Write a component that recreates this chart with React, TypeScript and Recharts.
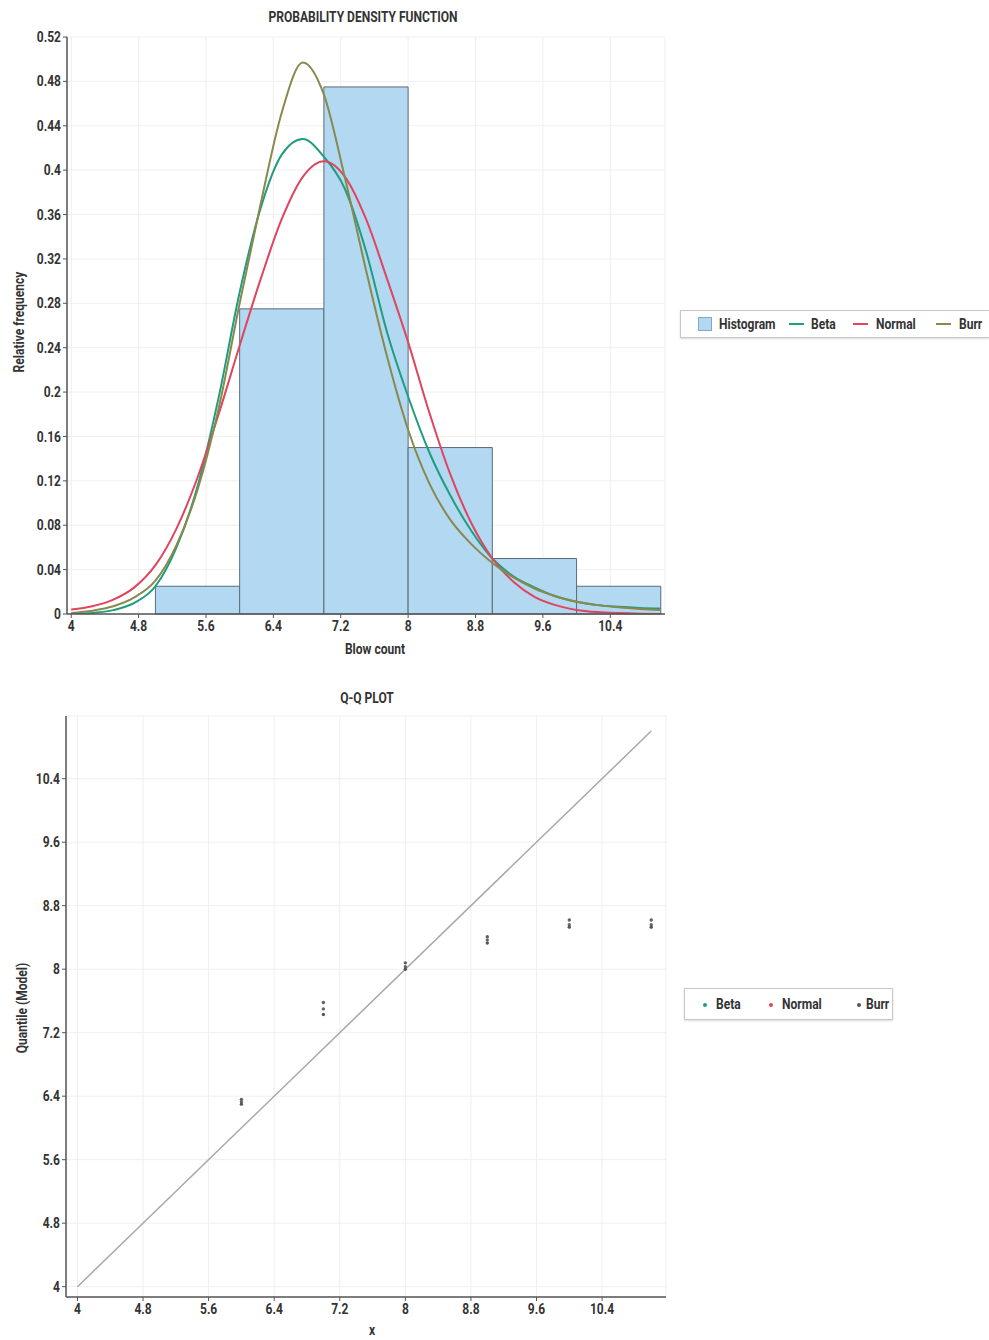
import React from "react";
import {
  ComposedChart,
  Line,
  Scatter,
  XAxis,
  YAxis,
  CartesianGrid,
  ReferenceArea,
  Legend,
} from "recharts";

// ---------- Data: histogram ----------
const HIST_EDGES = [5, 6, 7, 8, 9, 10, 11];
const HIST_FREQ = [0.025, 0.275, 0.475, 0.15, 0.05, 0.025];

// ---------- Data: fitted densities ----------
const PDF_X = [
  4, 4.25, 4.5, 4.75, 5, 5.25, 5.5, 5.75, 6, 6.25, 6.5, 6.75, 7, 7.25, 7.5,
  7.75, 8, 8.25, 8.5, 8.75, 9, 9.25, 9.5, 9.75, 10, 10.25, 10.5, 10.75, 11,
];
const BETA_PDF = [
  0.0002, 0.001, 0.0035, 0.01, 0.025, 0.06, 0.115, 0.195, 0.29, 0.366, 0.414,
  0.428, 0.412, 0.383, 0.327, 0.254, 0.196, 0.146, 0.107, 0.075, 0.05, 0.034,
  0.024, 0.016, 0.011, 0.008, 0.0065, 0.0055, 0.005,
];
const NORMAL_PDF = [
  0.004, 0.007, 0.013, 0.024, 0.044, 0.077, 0.123, 0.18, 0.242, 0.302, 0.356,
  0.394, 0.408, 0.394, 0.356, 0.302, 0.245, 0.182, 0.126, 0.082, 0.05, 0.029,
  0.0155, 0.008, 0.0037, 0.0017, 0.0008, 0.0003, 0.0001,
];
const BURR_PDF = [
  0.001, 0.003, 0.007, 0.015, 0.03, 0.062, 0.112, 0.185, 0.28, 0.37, 0.452,
  0.497, 0.468, 0.393, 0.31, 0.232, 0.166, 0.118, 0.085, 0.063, 0.046, 0.033,
  0.023, 0.016, 0.011, 0.008, 0.006, 0.0046, 0.0036,
];

// ---------- Data: Q-Q plot ----------
const QQ_X = [6, 7, 8, 9, 10, 11];
const QQ_BETA = [6.33, 7.5, 8.03, 8.37, 8.56, 8.56];
const QQ_NORMAL = [6.36, 7.58, 8.08, 8.41, 8.62, 8.62];
const QQ_BURR = [6.3, 7.43, 8.0, 8.33, 8.53, 8.53];
const QQ_LINE_X = [4, 11];

// ---------- Ticks ----------
const PDF_X_TICKS = [4, 4.8, 5.6, 6.4, 7.2, 8, 8.8, 9.6, 10.4];
const PDF_Y_TICKS = [
  0, 0.04, 0.08, 0.12, 0.16, 0.2, 0.24, 0.28, 0.32, 0.36, 0.4, 0.44, 0.48, 0.52,
];
const QQ_TICKS = [4, 4.8, 5.6, 6.4, 7.2, 8, 8.8, 9.6, 10.4];

const PDF_X_DOMAIN = [3.95, 11.05];
const PDF_Y_DOMAIN = [0, 0.52];
const QQ_X_DOMAIN = [3.86, 11.18];
const QQ_Y_DOMAIN = [3.87, 11.19];

// ---------- Styles ----------
const FONT = "Roboto, 'Noto Sans', sans-serif";
const SQUEEZE = 0.86;
const C_BETA = "#1f9d7f";
const C_NORMAL = "#e0445e";
const C_BURR = "#878a4c";
const C_HIST_FILL = "#b3d8f2";
const C_HIST_STROKE = "#5c6b78";
const C_AXIS = "#555";
const C_FRAME = "#a0a0a0";
const C_GRID = "#efefef";

const pdfRows = PDF_X.map((x, i) => ({
  x,
  beta: BETA_PDF[i],
  normal: NORMAL_PDF[i],
  burr: BURR_PDF[i],
}));

const qqRows = (vals: number[]) => QQ_X.map((x, i) => ({ x, y: vals[i] }));
const qqLineRows = QQ_LINE_X.map((v) => ({ x: v, y: v }));

const pdfLegendItems = [
  { name: "Histogram", color: C_HIST_FILL, kind: "box", mark: 17, text: 38 },
  { name: "Beta", color: C_BETA, kind: "line", mark: 108, text: 130 },
  { name: "Normal", color: C_NORMAL, kind: "line", mark: 172, text: 195 },
  { name: "Burr", color: C_BURR, kind: "line", mark: 255, text: 278 },
];
const qqLegendItems = [
  { name: "Beta", color: C_BETA, mark: 18, text: 31 },
  { name: "Normal", color: C_NORMAL, mark: 84, text: 97 },
  { name: "Burr", color: "#555", mark: 172, text: 181 },
];

const legendBox: React.CSSProperties = {
  position: "relative",
  border: "1px solid #c8c8c8",
  boxShadow: "0 1px 2px rgba(0,0,0,0.15)",
  background: "#fff",
  fontFamily: FONT,
  fontWeight: 700,
  fontSize: 14,
  color: "#333",
  boxSizing: "border-box",
};

const squeezedText = (left: number, text: string, top: number): React.ReactNode => (
  <span
    style={{
      position: "absolute",
      left,
      top,
      lineHeight: "16px",
      whiteSpace: "nowrap",
      transform: `scaleX(${SQUEEZE})`,
      transformOrigin: "left center",
    }}
  >
    {text}
  </span>
);

const PdfLegend = () => (
  <div style={{ ...legendBox, width: 309, height: 28, borderRight: "none" }}>
    {pdfLegendItems.map((it) => (
      <React.Fragment key={it.name}>
        {it.kind === "box" ? (
          <span
            style={{
              position: "absolute",
              left: it.mark,
              top: 6,
              width: 14,
              height: 14,
              background: it.color,
              border: "1px solid #7fa9c9",
              boxSizing: "border-box",
            }}
          />
        ) : (
          <span
            style={{
              position: "absolute",
              left: it.mark,
              top: 12,
              width: 15,
              height: 2,
              background: it.color,
            }}
          />
        )}
        {squeezedText(it.text, it.name, 5)}
      </React.Fragment>
    ))}
  </div>
);

const QqLegend = () => (
  <div style={{ ...legendBox, width: 209, height: 32 }}>
    {qqLegendItems.map((it) => (
      <React.Fragment key={it.name}>
        <span
          style={{
            position: "absolute",
            left: it.mark,
            top: 14,
            width: 4,
            height: 4,
            borderRadius: 2,
            background: it.color,
          }}
        />
        {squeezedText(it.text, it.name, 7)}
      </React.Fragment>
    ))}
  </div>
);

const CondTick = (props: any) => {
  const { x, y, payload, textAnchor, orientation } = props;
  const dy = orientation === "bottom" ? "0.8em" : "0.36em";
  return (
    <g transform={`translate(${x},${y})`}>
      <text
        transform={`scale(${SQUEEZE},1)`}
        textAnchor={textAnchor}
        dy={dy}
        fill="#333"
        fontSize={14}
        fontFamily={FONT}
        fontWeight={700}
      >
        {String(payload.value)}
      </text>
    </g>
  );
};

const dotShape = (color: string) => (props: any) =>
  <circle cx={props.cx} cy={props.cy} r={1.7} fill={color} />;

const Label = ({
  text,
  cx,
  cy,
  rotate = false,
}: {
  text: string;
  cx: number;
  cy: number;
  rotate?: boolean;
}) => (
  <div
    style={{
      position: "absolute",
      left: cx,
      top: cy,
      fontFamily: FONT,
      fontWeight: 700,
      fontSize: 14,
      lineHeight: "16px",
      color: "#333",
      whiteSpace: "nowrap",
      transform: `translate(-50%, -50%) ${rotate ? "rotate(-90deg)" : ""} scaleX(${SQUEEZE})`,
    }}
  >
    {text}
  </div>
);

export default function App() {
  return (
    <div style={{ position: "relative", width: 989, height: 1340, background: "#fff" }}>
      <style>{"body{margin:0;}"}</style>
      <div style={{ position: "absolute", left: 8, top: 8, width: 981, height: 1332 }}>
        {/* ---------- Top chart ---------- */}
        <div style={{ position: "absolute", left: 0, top: 0 }}>
          <ComposedChart
            width={981}
            height={660}
            data={pdfRows}
            margin={{ top: 29, right: 324, bottom: 24, left: 19 }}
          >
            <CartesianGrid stroke={C_GRID} />
            <XAxis
              dataKey="x"
              type="number"
              domain={PDF_X_DOMAIN}
              ticks={PDF_X_TICKS}
              allowDataOverflow
              height={30}
              tick={<CondTick />}
              tickSize={4}
              axisLine={{ stroke: C_AXIS, strokeWidth: 1.5 }}
              tickLine={{ stroke: C_AXIS }}
            />
            <XAxis
              xAxisId="top"
              orientation="top"
              type="number"
              domain={PDF_X_DOMAIN}
              height={0}
              tick={false}
              tickLine={false}
              axisLine={{ stroke: C_FRAME, strokeWidth: 1.5 }}
            />
            <YAxis
              type="number"
              domain={PDF_Y_DOMAIN}
              ticks={PDF_Y_TICKS}
              allowDataOverflow
              width={40}
              tick={<CondTick />}
              tickSize={4}
              axisLine={{ stroke: C_AXIS, strokeWidth: 1.5 }}
              tickLine={{ stroke: C_AXIS }}
            />
            <YAxis
              yAxisId="right"
              orientation="right"
              type="number"
              domain={PDF_Y_DOMAIN}
              width={0}
              tick={false}
              tickLine={false}
              axisLine={{ stroke: C_FRAME, strokeWidth: 1.5 }}
            />
            {HIST_FREQ.map((f, i) => (
              <ReferenceArea
                key={i}
                x1={HIST_EDGES[i]}
                x2={HIST_EDGES[i + 1]}
                y1={0}
                y2={f}
                fill={C_HIST_FILL}
                fillOpacity={1}
                stroke={C_HIST_STROKE}
                strokeWidth={1}
                ifOverflow="extendDomain"
              />
            ))}
            <Line
              type="monotone"
              dataKey="beta"
              stroke={C_BETA}
              strokeWidth={2}
              dot={false}
              isAnimationActive={false}
            />
            <Line
              type="monotone"
              dataKey="normal"
              stroke={C_NORMAL}
              strokeWidth={2}
              dot={false}
              isAnimationActive={false}
            />
            <Line
              type="monotone"
              dataKey="burr"
              stroke={C_BURR}
              strokeWidth={2}
              dot={false}
              isAnimationActive={false}
            />
            <Legend
              content={() => <PdfLegend />}
              layout="horizontal"
              align="center"
              verticalAlign="middle"
              wrapperStyle={{ left: 672, top: 302, width: 309, height: 28 }}
            />
          </ComposedChart>
        </div>
        <Label text="PROBABILITY DENSITY FUNCTION" cx={355} cy={9} />
        <Label text="Relative frequency" cx={11} cy={314} rotate />
        <Label text="Blow count" cx={367} cy={641} />

        {/* ---------- Bottom chart ---------- */}
        <div style={{ position: "absolute", left: 0, top: 660 }}>
          <ComposedChart
            width={981}
            height={660}
            margin={{ top: 48, right: 323, bottom: 1, left: 18 }}
          >
            <CartesianGrid stroke={C_GRID} />
            <XAxis
              dataKey="x"
              type="number"
              domain={QQ_X_DOMAIN}
              ticks={QQ_TICKS}
              allowDataOverflow
              height={30}
              tick={<CondTick />}
              tickSize={4}
              axisLine={{ stroke: C_AXIS, strokeWidth: 1.5 }}
              tickLine={{ stroke: C_AXIS }}
            />
            <XAxis
              xAxisId="top"
              orientation="top"
              type="number"
              domain={QQ_X_DOMAIN}
              height={0}
              tick={false}
              tickLine={false}
              axisLine={{ stroke: C_FRAME, strokeWidth: 1.5 }}
            />
            <YAxis
              dataKey="y"
              type="number"
              domain={QQ_Y_DOMAIN}
              ticks={QQ_TICKS}
              allowDataOverflow
              width={40}
              tick={<CondTick />}
              tickSize={4}
              axisLine={{ stroke: C_AXIS, strokeWidth: 1.5 }}
              tickLine={{ stroke: C_AXIS }}
            />
            <YAxis
              yAxisId="right"
              orientation="right"
              type="number"
              domain={QQ_Y_DOMAIN}
              width={0}
              tick={false}
              tickLine={false}
              axisLine={{ stroke: C_FRAME, strokeWidth: 1.5 }}
            />
            <Line
              data={qqLineRows}
              type="linear"
              dataKey="y"
              stroke="#a8a8a8"
              strokeWidth={1.5}
              dot={false}
              isAnimationActive={false}
            />
            <Scatter
              data={qqRows(QQ_BETA)}
              dataKey="y"
              fill={C_BETA}
              shape={dotShape("#5a6a66")}
              isAnimationActive={false}
            />
            <Scatter
              data={qqRows(QQ_NORMAL)}
              dataKey="y"
              fill={C_NORMAL}
              shape={dotShape("#6a5a5e")}
              isAnimationActive={false}
            />
            <Scatter
              data={qqRows(QQ_BURR)}
              dataKey="y"
              fill="#555"
              shape={dotShape("#555")}
              isAnimationActive={false}
            />
            <Legend
              content={() => <QqLegend />}
              layout="horizontal"
              align="center"
              verticalAlign="middle"
              wrapperStyle={{ left: 676, top: 320, width: 209, height: 32 }}
            />
          </ComposedChart>
        </div>
        <Label text="Q-Q PLOT" cx={359} cy={690} />
        <Label text="Quantile (Model)" cx={14} cy={1000} rotate />
        <Label text="x" cx={364} cy={1322} />
      </div>
    </div>
  );
}
